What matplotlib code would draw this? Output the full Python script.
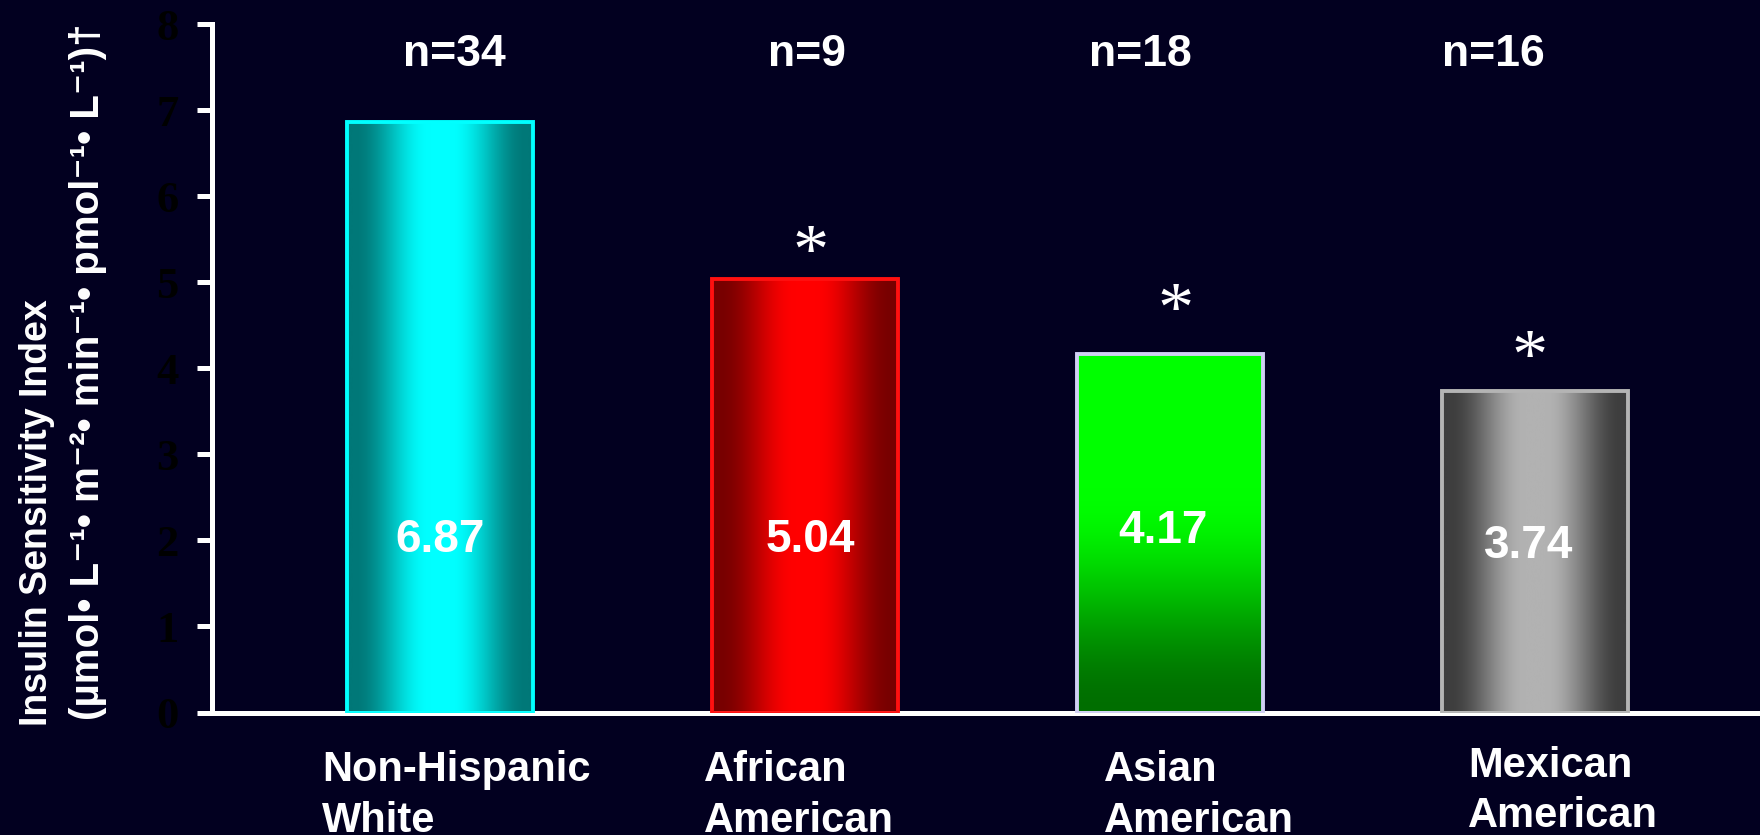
import numpy as np
import matplotlib
matplotlib.use('Agg')
import matplotlib.pyplot as plt

# data
groups = ['Non-Hispanic\nWhite', 'African\nAmerican', 'Asian\nAmerican', 'Mexican\nAmerican']
values = [6.87, 5.04, 4.17, 3.74]
n_counts = [34, 9, 18, 16]
significant = [False, True, True, True]

bg = '#020020'
W, H, DPI = 1760, 835, 100

fig = plt.figure(figsize=(W / DPI, H / DPI), dpi=DPI, facecolor=bg)
# axes placed in pixel terms: left spine at x=212, y=0 at 712, y=8 at 24
ax = fig.add_axes([212 / W, (H - 712.5) / H, (W - 212) / W, (712.5 - 24.3) / H])
ax.set_facecolor(bg)


def smoothstep(a, b, x):
    t = np.clip((x - a) / (b - a), 0, 1)
    return t * t * (3 - 2 * t)


# bar styles: (gradient kind, dark colour, light colour, edge colour)
styles = [
    ('h', (0, 120, 120), (0, 255, 255), '#00ffff'),
    ('h', (120, 0, 0), (255, 0, 0), '#ff1010'),
    ('v', (0, 110, 0), (0, 255, 0), '#d0d0f4'),
    ('h', (62, 62, 62), (178, 178, 178), '#b4b4b4'),
]

bw = 0.51
xs = np.arange(len(values))
for x, v, (kind, dark, light, edge) in zip(xs, values, styles):
    dark = np.array(dark) / 255
    light = np.array(light) / 255
    t = np.linspace(0, 1, 256)
    if kind == 'h':
        d = np.abs(t - 0.5) * 2
        f = 1 - smoothstep(0.12, 0.92, d)
        img = (dark + (light - dark) * f[:, None])[None, :, :]
    else:
        f = smoothstep(0.0, 0.62, t)[::-1]
        img = (dark + (light - dark) * f[:, None])[:, None, :]
    ax.imshow(img, extent=(x - bw / 2, x + bw / 2, 0, v), aspect='auto',
              interpolation='bicubic', zorder=2)
    ax.bar(x, v, width=bw, fill=False, edgecolor=edge, linewidth=2.8, zorder=3)

# n= labels above the plot
n_dx = [0.04, 0.005, -0.08, -0.115]
for x, n, dx in zip(xs, n_counts, n_dx):
    ax.text(x + dx, 7.65, 'n=%d' % n, color='white', fontsize=32, fontweight='bold',
            family='Liberation Sans', ha='center', va='center', zorder=5)

# values inside the bars
val_dx = [0.0, 0.014, -0.019, -0.016]
val_y = [2.01, 2.01, 2.11, 1.94]
for x, v, dx, y in zip(xs, values, val_dx, val_y):
    ax.text(x + dx, y, '%.2f' % v, color='white', fontsize=33, fontweight='bold',
            family='Liberation Sans', ha='center', va='center', zorder=5)

# significance asterisks
ast_dx = [0, 0.016, 0.014, -0.014]
ast_off = [0, 0.36, 0.56, 0.44]
for x, v, s, dx, off in zip(xs, values, significant, ast_dx, ast_off):
    if s:
        ax.text(x + dx, v + off, '*', color='white', fontsize=52,
                family='Liberation Serif', ha='center', va='center_baseline', zorder=5)

# category labels, left aligned under the bars
lab_dx = [-0.323, -0.277, -0.181, -0.184]
lab_y = [-0.44, -0.44, -0.44, -0.39]
for x, lab, dx, y in zip(xs, groups, lab_dx, lab_y):
    ax.text(x + dx, y, lab, color='white', fontsize=30, fontweight='bold',
            family='Liberation Sans', ha='left', va='top', linespacing=1.33,
            clip_on=False)

ax.set_xlim((212 - 440) / 365, (W - 440) / 365)
ax.set_ylim(0, 8)
ax.set_yticks(range(0, 9))
ax.set_xticks([])
for side in ['top', 'right']:
    ax.spines[side].set_visible(False)
for side in ['left', 'bottom']:
    ax.spines[side].set_color('white')
    ax.spines[side].set_linewidth(3.6)
ax.tick_params(axis='y', colors='white', length=11, width=3.6, pad=13,
               labelcolor='black', labelsize=32)
for lbl in ax.get_yticklabels():
    lbl.set_family('Liberation Serif')
    lbl.set_fontweight('bold')

# two-line y title
fam = ['Liberation Sans', 'DejaVu Sans']
fig.text(37 / W, (H - 726) / H, 'Insulin Sensitivity Index', rotation=90,
         color='white', fontsize=27, fontweight='bold', family=fam,
         ha='center', va='bottom')
fig.text(88 / W, (H - 720) / H,
         '(\u00b5mol\u2022 L\u207b\u00b9\u2022 m\u207b\u00b2\u2022 min\u207b\u00b9\u2022 '
         'pmol\u207b\u00b9\u2022 L\u207b\u00b9)\u2020', rotation=90,
         color='white', fontsize=29, fontweight='bold', family=fam,
         ha='center', va='bottom')

fig.savefig('out.png', dpi=DPI, facecolor=bg)
